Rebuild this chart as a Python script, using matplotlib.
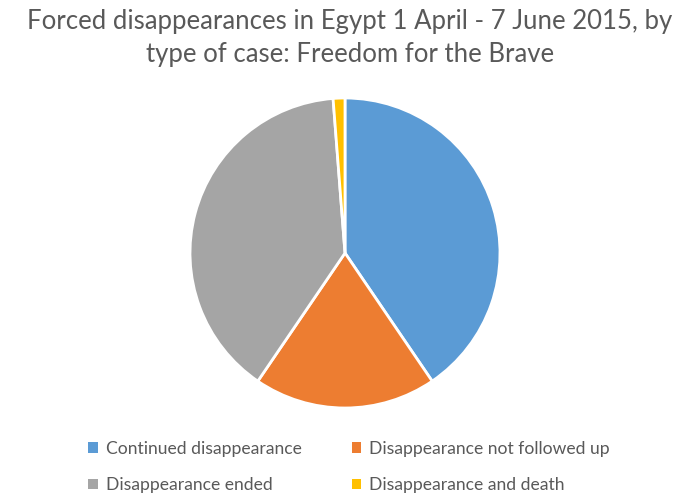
import matplotlib
matplotlib.use("Agg")
import matplotlib.pyplot as plt
from matplotlib.patches import Patch

categories = ["Continued disappearance", "Disappearance not followed up",
              "Disappearance ended", "Disappearance and death"]
values = [66, 31, 64, 2]
colors = ["#5B9BD5", "#ED7D31", "#A5A5A5", "#FFC000"]
title = "Forced disappearances in Egypt 1 April - 7 June 2015, by\ntype of case: Freedom for the Brave"

plt.rcParams['font.family'] = ['Lato', 'DejaVu Sans']

fig = plt.figure(figsize=(7.0, 5.01), dpi=100)
fig.patch.set_facecolor("white")

ax = fig.add_axes([190/700, 93/501, 310/700, 310/501])
ax.pie(values, colors=colors, startangle=90, counterclock=False, radius=1,
       wedgeprops=dict(edgecolor="white", linewidth=2))
ax.set_xlim(-1.0, 1.0)
ax.set_ylim(-1.0, 1.0)
ax.set_aspect("equal")
ax.set_axis_off()

fig.text(0.5, 1 - 38/501, title, ha="center", va="center",
         fontsize=18.5, color="#595959", linespacing=1.4)

order = [0, 2, 1, 3]
handles = [Patch(facecolor=colors[i], edgecolor="none") for i in order]
labels = [categories[i] for i in order]
leg = fig.legend(handles, labels, ncol=2, loc="center",
                 bbox_to_anchor=(349/700, 1 - 467/501), frameon=False,
                 fontsize=12.6, labelcolor="#595959", handlelength=0.55,
                 handleheight=0.55, handletextpad=0.45, columnspacing=2.85,
                 labelspacing=1.15)

fig.savefig("out.png", dpi=100)
